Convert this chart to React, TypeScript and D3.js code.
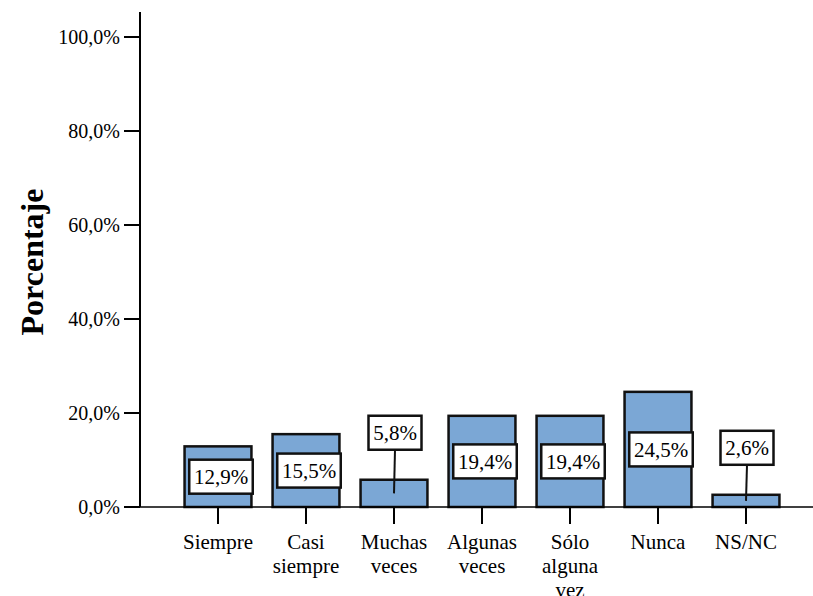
import React from "react";
import * as d3 from "d3";

const categories: string[][] = [
  ["Siempre"],
  ["Casi", "siempre"],
  ["Muchas", "veces"],
  ["Algunas", "veces"],
  ["Sólo", "alguna", "vez"],
  ["Nunca"],
  ["NS/NC"],
];
const values: number[] = [12.9, 15.5, 5.8, 19.4, 19.4, 24.5, 2.6];
const yTicks: number[] = [0, 20, 40, 60, 80, 100];

const W = 813;
const H = 596;
const fmt = (v: number) => v.toFixed(1).replace(".", ",") + "%";
const SERIF = "'Liberation Serif', 'Times New Roman', serif";

export default function App() {
  const axisX = 140;
  const baseY = 507;
  const x = d3
    .scaleBand<number>()
    .domain(values.map((_, i) => i))
    .range([174, 790])
    .paddingInner(0.24)
    .paddingOuter(0.12);
  const y = d3.scaleLinear().domain([0, 100]).range([baseY, 37]);

  return (
    <svg width={W} height={H} style={{ position: "absolute", left: 0, top: 0, fontFamily: SERIF }}>
      <rect width={W} height={H} fill="#fff" />
      <line x1={axisX} x2={axisX} y1={12} y2={baseY} stroke="#000" strokeWidth={2} />
      {yTicks.map((t) => (
        <g key={t}>
          <line x1={124} x2={axisX} y1={y(t)} y2={y(t)} stroke="#000" strokeWidth={2} />
          <text x={120} y={y(t)} dy="0.35em" textAnchor="end" fontFamily={SERIF} fontSize={20}>
            {fmt(t)}
          </text>
        </g>
      ))}
      <text
        transform={`translate(43,262) rotate(-90)`}
        textAnchor="middle"
        fontFamily={SERIF}
        fontSize={32}
        fontWeight="bold"
      >
        Porcentaje
      </text>
      {values.map((v, i) => {
        const bx = x(i)!;
        const bw = x.bandwidth();
        return (
          <rect
            key={i}
            x={bx}
            y={y(v)}
            width={bw}
            height={baseY - y(v)}
            fill="#7BA7D5"
            stroke="#111"
            strokeWidth={2.5}
          />
        );
      })}
      <line x1={axisX} x2={W} y1={baseY} y2={baseY} stroke="#000" strokeWidth={1.5} />
      {categories.map((lines, i) => {
        const cx = x(i)! + x.bandwidth() / 2;
        return (
          <g key={i}>
            <line x1={cx} x2={cx} y1={baseY} y2={524} stroke="#000" strokeWidth={2} />
            <text x={cx} y={549} textAnchor="middle" fontFamily={SERIF} fontSize={21}>
              {lines.map((l, j) => (
                <tspan key={j} x={cx} dy={j === 0 ? 0 : 24}>
                  {l}
                </tspan>
              ))}
            </text>
          </g>
        );
      })}
      {values.map((v, i) => {
        const cx = x(i)! + x.bandwidth() / 2;
        const mid = y(v / 2);
        const small = v < 10;
        const label = fmt(v);
        const bw = label.length * 10.5 + 11;
        const bh = 34;
        const lx = small ? cx + 1 : cx + 3;
        const ly = small ? y(v) - 47 : mid;
        return (
          <g key={i}>
            {small && (
              <line x1={lx} x2={cx} y1={ly + bh / 2} y2={mid} stroke="#111" strokeWidth={2} />
            )}
            <rect
              x={lx - bw / 2}
              y={ly - bh / 2}
              width={bw}
              height={bh}
              fill="#fff"
              stroke="#111"
              strokeWidth={2.5}
            />
            <text x={lx} y={ly} dy="0.35em" textAnchor="middle" fontFamily={SERIF} fontSize={21}>
              {label}
            </text>
          </g>
        );
      })}
    </svg>
  );
}
